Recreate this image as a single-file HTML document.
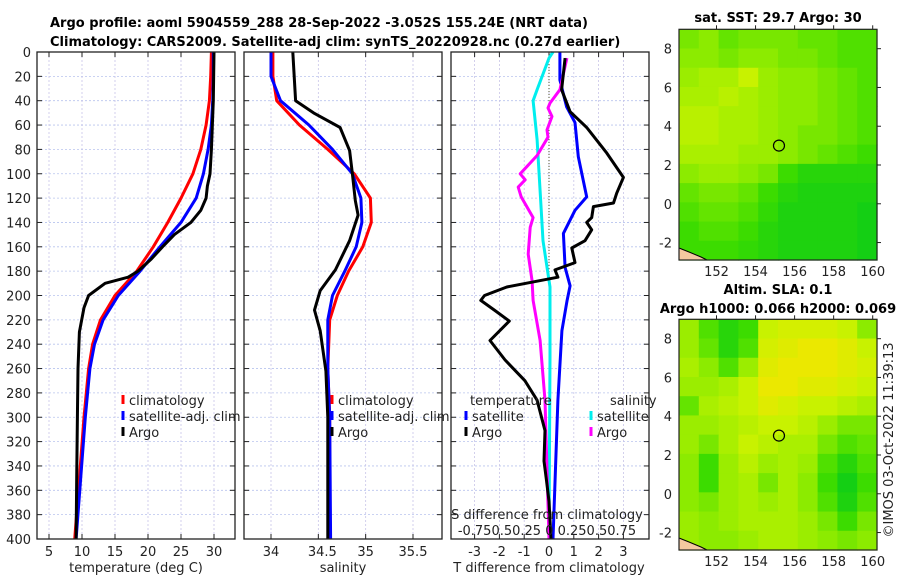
<!DOCTYPE html>
<html><head><meta charset="utf-8">
<style>
html,body{margin:0;padding:0;background:#fff;}
svg{display:block;font-family:"DejaVu Sans","Liberation Sans",sans-serif;}
.t{font-size:13px;fill:#222;}
.b{font-size:13px;font-weight:bold;fill:#000;}
</style></head>
<body>
<svg id="fig" width="900" height="580" viewBox="0 0 900 580" xmlns="http://www.w3.org/2000/svg">
<text class="b" x="50" y="27">Argo profile: aoml 5904559_288 28-Sep-2022 -3.052S 155.24E (NRT data)</text>
<text class="b" x="50" y="46">Climatology: CARS2009. Satellite-adj clim: synTS_20220928.nc (0.27d earlier)</text>
<text class="b" x="778" y="22" text-anchor="middle">sat. SST: 29.7 Argo: 30</text>
<text class="b" x="778" y="294" text-anchor="middle">Altim. SLA: 0.1</text>
<text class="b" x="778" y="313" text-anchor="middle">Argo h1000: 0.066 h2000: 0.069</text>
<text class="t" transform="translate(893,440) rotate(-90)" text-anchor="middle">©IMOS 03-Oct-2022 11:39:13</text>
<g id="plots"></g>
</svg>
<script>
// ---------- data ----------
const depthTicks=[0,20,40,60,80,100,120,140,160,180,200,220,240,260,280,300,320,340,360,380,400];
const tTicks=[5,10,15,20,25,30];
const sTicks=[34,34.5,35,35.5];
const dTTicks=[-3,-2,-1,0,1,2,3];
const climT_depth=[0,20,40,60,80,100,120,140,160,180,200,220,240,260,300,350,400];
const climT=[29.6,29.5,29.3,28.8,28.0,26.8,25.0,23.0,20.8,18.3,15.0,12.8,11.6,11.0,10.3,9.6,8.9];
const satT=[29.9,29.9,29.8,29.6,29.1,28.4,27.3,25.0,21.8,18.8,15.5,13.2,11.9,11.2,10.5,9.8,9.1];
const argoT_depth=[0,40,80,100,110,120,130,140,150,160,170,180,185,190,200,210,230,260,300,350,400];
const argoT=[30.0,29.9,29.6,29.4,29.0,28.8,28.0,26.5,24.0,22.2,20.5,18.5,17.0,13.5,11.0,10.3,9.6,9.4,9.3,9.2,9.1];
const climS_depth=[0,20,40,60,80,100,120,140,160,180,200,220,260,300,400];
const climS=[34.02,34.02,34.06,34.3,34.6,34.88,35.05,35.06,34.97,34.82,34.7,34.62,34.6,34.62,34.62];
const satS=[34.0,34.0,34.1,34.4,34.65,34.86,34.95,34.96,34.9,34.78,34.65,34.6,34.6,34.62,34.63];
const argoS_depth=[0,40,50,62,81,100,122,134,155,179,196,212,229,262,300,400];
const argoS=[34.23,34.26,34.45,34.73,34.83,34.86,34.89,34.92,34.83,34.68,34.52,34.46,34.52,34.58,34.6,34.6];
const dS_sat_depth=[0,5,31,40,72,114,155,193,250,400];
const dS_sat=[0.04,0.0,-0.12,-0.16,-0.12,-0.09,-0.06,0.01,0.01,0.0];
const dT_sat_depth=[0,23,45,58,86,119,130,149,177,192,204,229,286,400];
const dT_sat=[0.44,0.44,0.71,1.05,1.18,1.52,1.05,0.58,0.65,0.85,0.73,0.52,0.36,0.16];
const dT_argo_depth=[5,31,49,62,83,103,116,124,127,136,140,146,155,161,173,179,185,193,200,204,212,221,237,253,270,286,311,336,352,369,400];
const dT_argo=[0.65,0.51,0.85,1.52,2.33,3.0,2.73,2.6,1.79,1.72,1.52,1.72,1.45,0.92,1.05,0.24,0.36,-1.7,-2.6,-2.75,-2.2,-1.6,-2.38,-1.77,-0.97,-0.48,-0.16,-0.2,-0.1,0.0,0.08];
const dS_argo_depth=[5,31,42,46,53,64,70,85,100,105,111,119,136,144,155,166,188,204,237,286,400];
const dS_argo=[0.18,0.11,0.01,-0.01,0.03,-0.02,-0.01,-0.12,-0.29,-0.24,-0.31,-0.28,-0.16,-0.19,-0.2,-0.21,-0.17,-0.16,-0.09,-0.04,0.0];
const latTicks=[-2,0,2,4,6,8];
const lonTicks=[152,154,156,158,160];
const sstGrid=[
[.45,.5,.4,.45,.45,.45,.4,.4,.35,.35],
[.5,.5,.45,.5,.5,.45,.45,.4,.35,.35],
[.55,.6,.6,.7,.55,.5,.5,.45,.4,.35],
[.6,.6,.65,.6,.55,.5,.5,.45,.4,.35],
[.65,.65,.6,.6,.55,.5,.5,.45,.4,.35],
[.65,.65,.6,.6,.55,.5,.45,.45,.4,.35],
[.6,.6,.6,.55,.55,.5,.45,.4,.35,.3],
[.5,.55,.55,.5,.45,.3,.2,.2,.2,.2],
[.4,.45,.45,.4,.3,.2,.15,.15,.15,.15],
[.35,.4,.4,.35,.25,.15,.15,.15,.15,.1],
[.3,.35,.35,.3,.2,.15,.15,.15,.15,.1],
[.3,.3,.3,.25,.2,.15,.15,.15,.15,.1]];
const slaGrid=[
[.55,.35,.2,.3,.7,.75,.75,.75,.7,.5],
[.55,.4,.2,.35,.75,.8,.85,.85,.8,.7],
[.6,.5,.35,.55,.8,.85,.85,.85,.8,.75],
[.55,.55,.6,.7,.85,.85,.8,.8,.75,.7],
[.4,.6,.65,.7,.8,.75,.7,.7,.65,.6],
[.55,.55,.6,.65,.7,.7,.65,.55,.45,.45],
[.55,.45,.6,.7,.65,.6,.6,.45,.35,.4],
[.5,.3,.55,.65,.55,.6,.55,.35,.2,.35],
[.5,.3,.55,.6,.45,.6,.5,.3,.1,.3],
[.5,.45,.55,.6,.55,.6,.5,.35,.15,.35],
[.55,.5,.55,.6,.6,.6,.55,.45,.3,.45],
[.55,.5,.5,.55,.6,.6,.55,.5,.45,.5]];
const argoPos=[155.2,3.0];

// ---------- helpers ----------
const NS="http://www.w3.org/2000/svg";
const root=document.getElementById('plots');
function mk(tag,attrs,parent){const e=document.createElementNS(NS,tag);for(const k in attrs)e.setAttribute(k,attrs[k]);(parent||root).appendChild(e);return e;}
const TOP=52,BOT=539;
const yD=d=>TOP+d*(BOT-TOP)/400;
const panels=[{x0:37,x1:235},{x0:244,x1:442},{x0:451,x1:649}];
const xT=v=>49+(v-5)*(214-49)/25;
const xS=v=>271+(v-34)*(413-271)/1.5;
const xdT=v=>549+v*24.8;
const xdS=v=>549+v*99.2;

function grid(p,xs,pi){
  const g=mk('g',{});
  
  
  depthTicks.forEach(d=>{ if(d>0&&d<400){
    mk('line',{x1:p.x0,x2:p.x1,y1:yD(d),y2:yD(d),stroke:'#b8c4ee','stroke-width':0.8,'stroke-dasharray':'2,2'},g);
    mk('line',{x1:p.x0,x2:p.x0+5,y1:yD(d),y2:yD(d),stroke:'#222'},g);
    mk('line',{x1:p.x1-5,x2:p.x1,y1:yD(d),y2:yD(d),stroke:'#222'},g);
  }});
  xs.forEach(x=>{ if(x>p.x0&&x<p.x1){
    mk('line',{x1:x,x2:x,y1:TOP,y2:BOT,stroke:'#c8c4e8','stroke-width':0.8,'stroke-dasharray':'2,2'},g);
    mk('line',{x1:x,x2:x,y1:TOP,y2:TOP+5,stroke:'#222'},g);
    mk('line',{x1:x,x2:x,y1:BOT-5,y2:BOT,stroke:'#222'},g);
  }});
}
function frame(p,pi){
  const r=mk('rect',{x:p.x0,y:TOP,width:p.x1-p.x0,height:BOT-TOP,fill:'none',stroke:'#222','stroke-width':1.3});
  
  
}
function line(xs,ds,fx,color,name,w){
  const pts=xs.map((v,i)=>fx(v).toFixed(1)+','+yD(ds[i]).toFixed(1)).join(' ');
  const l=mk('polyline',{points:pts,fill:'none',stroke:color,'stroke-width':w||3,'stroke-linejoin':'round'});
  
  
}
function text(x,y,s,anchor,name,cls){
  const t=mk('text',{x:x,y:y,'text-anchor':anchor||'start',class:cls||'t'});
  t.textContent=s;
  
  
  return t;
}
function legendEntry(x,y,color,label,name){
  const r=mk('rect',{x:x-1.5,y:y-10,width:3,height:9,fill:color});
  
  
  text(x+6,y,label,'start',name);
}

// ---------- panel 1: temperature ----------
let p=panels[0];
grid(p,tTicks.map(xT),1);
line(climT,climT_depth,xT,'#ff0000','climatology-temp-line');
line(satT,climT_depth,xT,'#0000ff','satellite-temp-line');
line(argoT,argoT_depth,xT,'#000000','argo-temp-line');
frame(p,1);
depthTicks.forEach(d=>text(31,yD(d)+5,String(d),'end','depth-tick-'+d));
tTicks.forEach(v=>text(xT(v),556,String(v),'middle','temp-tick-'+v));
text(136,572,'temperature (deg C)','middle','temperature-axis-title');
legendEntry(123,405,'#ff0000','climatology','legend-climatology-1');
legendEntry(123,421,'#0000ff','satellite-adj. clim','legend-satellite-1');
legendEntry(123,437,'#000000','Argo','legend-argo-1');

// ---------- panel 2: salinity ----------
p=panels[1];
grid(p,sTicks.map(xS),2);
line(climS,climS_depth,xS,'#ff0000','climatology-salinity-line');
line(satS,climS_depth,xS,'#0000ff','satellite-salinity-line');
line(argoS,argoS_depth,xS,'#000000','argo-salinity-line');
frame(p,2);
sTicks.forEach(v=>text(xS(v)+(v===34.5?4:0),556,String(v),'middle','salinity-tick-'+v));
text(343,572,'salinity','middle','salinity-axis-title');
legendEntry(332,405,'#ff0000','climatology','legend-climatology-2');
legendEntry(332,421,'#0000ff','satellite-adj. clim','legend-satellite-2');
legendEntry(332,437,'#000000','Argo','legend-argo-2');

// ---------- panel 3: differences ----------
p=panels[2];
grid(p,dTTicks.map(xdT),3);
const zl=mk('line',{x1:549,x2:549,y1:TOP,y2:300,stroke:'#555533','stroke-width':1,'stroke-dasharray':'1,2'});


line(dS_sat,dS_sat_depth,xdS,'#00eeee','satellite-sdiff-line');
line(dT_sat,dT_sat_depth,xdT,'#0000ff','satellite-tdiff-line');
line(dS_argo,dS_argo_depth,xdS,'#ff00ff','argo-sdiff-line');
line(dT_argo,dT_argo_depth,xdT,'#000000','argo-tdiff-line');
frame(p,3);
dTTicks.forEach(v=>text(xdT(v),556,String(v),'middle','tdiff-tick-'+v));
text(549,572,'T difference from climatology','middle','tdiff-axis-title');
text(547,519,'S difference from climatology','middle','sdiff-axis-title');
text(547,535,'-0.750.50.25 0 0.250.50.75','middle','sdiff-ticks');
text(470,405,'temperature','start','legend-temperature-header');
text(610,405,'salinity','start','legend-salinity-header');
legendEntry(466,421,'#0000ff','satellite','legend-tdiff-satellite');
legendEntry(466,437,'#000000','Argo','legend-tdiff-argo');
legendEntry(591,421,'#00eeee','satellite','legend-sdiff-satellite');
legendEntry(591,437,'#ff00ff','Argo','legend-sdiff-argo');

// ---------- maps ----------
const stops=[[0,[0,200,30]],[0.3,[60,220,0]],[0.5,[140,235,0]],[0.7,[200,242,0]],[0.85,[235,232,0]],[1,[245,200,0]]];
function cmap(v){for(let i=1;i<stops.length;i++){if(v<=stops[i][0]){const a=stops[i-1],b=stops[i];const f=(v-a[0])/(b[0]-a[0]);return 'rgb('+a[1].map((c,k)=>Math.round(c+(b[1][k]-c)*f)).join(',')+')';}}return 'rgb(245,200,0)';}
function drawMap(top,bot,gridv,name){
  const L=679,R=877,lon0=150.08,lon1=160.22,lat0=-2.9,lat1=9.0;
  const xL=v=>L+(v-lon0)*(R-L)/(lon1-lon0);
  const yL=v=>bot-(v-lat0)*(bot-top)/(lat1-lat0);
  const g=mk('g',{});
  
  
  const rows=gridv.length,cols=gridv[0].length;
  const cw=(R-L)/cols,ch=(bot-top)/rows;
  gridv.forEach((row,r)=>row.forEach((v,c)=>{
    const cell=mk('rect',{x:(L+c*cw).toFixed(2),y:(top+r*ch).toFixed(2),width:(cw+0.6).toFixed(2),height:(ch+0.6).toFixed(2),fill:cmap(v)},g);
    
    
  }));
  const coast=mk('polygon',{points:`${L},${bot-12} ${L+10},${bot-8} ${L+22},${bot-3} ${L+28},${bot} ${L},${bot}`,fill:'#f4c8a0',stroke:'#000','stroke-width':1},g);
  
  
  const c=mk('circle',{cx:xL(argoPos[0]),cy:yL(argoPos[1]),r:5.5,fill:'none',stroke:'#000','stroke-width':1.2},g);
  
  
  const fr=mk('rect',{x:L,y:top,width:R-L,height:bot-top,fill:'none',stroke:'#222','stroke-width':1.2},g);
  
  
  latTicks.forEach(v=>{
    mk('line',{x1:R,x2:R+4,y1:yL(v),y2:yL(v),stroke:'#222'},g);
    text(672,yL(v)+5,String(v),'end',name+'-lat-tick-'+v);
  });
  lonTicks.forEach(v=>{
    mk('line',{x1:xL(v),x2:xL(v),y1:top-4,y2:top,stroke:'#222'},g);
    text(xL(v),bot+16,String(v),'middle',name+'-lon-tick-'+v);
  });
}
drawMap(29.3,260,sstGrid,'sst-map');
drawMap(319.3,550,slaGrid,'sla-map');
</script>
</body></html>
